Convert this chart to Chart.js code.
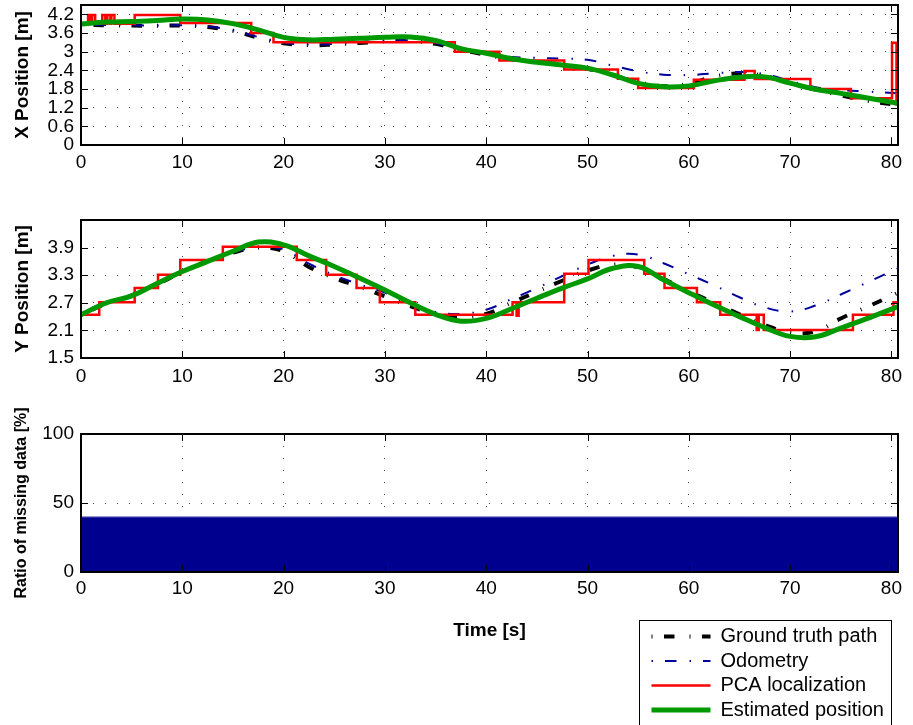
<!DOCTYPE html>
<html><head><meta charset="utf-8">
<script src="https://cdn.jsdelivr.net/npm/chart.js@4/dist/chart.umd.min.js"></script>
<style>
html,body{margin:0;padding:0;background:#fff;overflow:hidden;width:913px;height:725px}
canvas{position:absolute}
</style></head><body>
<canvas id="cx" width="913" height="200" style="left:0;top:0"></canvas>
<canvas id="cy" width="913" height="200" style="left:0;top:200px"></canvas>
<canvas id="cr" width="913" height="325" style="left:0;top:400px"></canvas>
<canvas id="cl" width="274" height="140" style="left:639px;top:620px"></canvas>
<script>
// ---------- data ----------
const xTicks = [0, 10, 20, 30, 40, 50, 60, 70, 80];
const xPosTicks = [0, 0.6, 1.2, 1.8, 2.4, 3, 3.6, 4.2];
const yPosTicks = [1.5, 2.1, 2.7, 3.3, 3.9];
const ratioTicks = [0, 50, 100];

const posTime = [0, 2.5, 5, 7.5, 10, 12.5, 15, 17.5, 20, 22.5, 25, 27.5, 30, 32.5, 35, 37.5, 40, 42.5, 45, 47.5, 50, 52.5, 55, 57.5, 60, 62.5, 65, 67.5, 70, 72.5, 75, 77.5, 80.65];

const xTruth = [3.86, 3.85, 3.84, 3.83, 3.84, 3.79, 3.67, 3.45, 3.27, 3.21, 3.23, 3.28, 3.33, 3.34, 3.25, 3.06, 2.9, 2.76, 2.67, 2.58, 2.45, 2.24, 2.02, 1.89, 1.97, 2.2, 2.3, 2.22, 2.0, 1.78, 1.6, 1.43, 1.28];
const xOdometry = [3.87, 3.86, 3.85, 3.84, 3.85, 3.8, 3.69, 3.47, 3.29, 3.23, 3.25, 3.3, 3.35, 3.36, 3.27, 3.08, 2.93, 2.83, 2.8, 2.78, 2.74, 2.55, 2.37, 2.26, 2.25, 2.3, 2.35, 2.28, 2.06, 1.86, 1.77, 1.72, 1.66];
const xEstimated = [3.89, 3.95, 3.97, 4.0, 4.05, 4.02, 3.9, 3.7, 3.46, 3.38, 3.4, 3.43, 3.46, 3.47, 3.36, 3.1, 2.95, 2.77, 2.66, 2.57, 2.47, 2.25, 1.98, 1.87, 1.9, 2.06, 2.18, 2.19, 1.99, 1.79, 1.66, 1.52, 1.34];
const xPcaTime = [0, 0.7, 0.9, 1.1, 1.4, 2.1, 2.4, 2.6, 2.9, 3.0, 3.3, 5.3, 9.8, 16.8, 19.0, 36.9, 41.3, 47.7, 53.0, 55.0, 60.5, 65.5, 66.5, 72.0, 76.0, 80.06, 80.5, 80.65];
const xPca = [3.9, 4.18, 3.9, 4.18, 3.9, 4.18, 3.9, 4.18, 3.9, 4.18, 3.9, 4.18, 3.92, 3.6, 3.3, 3.0, 2.72, 2.43, 2.13, 1.83, 2.1, 2.38, 2.12, 1.8, 1.5, 3.29, 1.3, 1.3];

const yTruth = [2.44, 2.68, 2.86, 3.1, 3.37, 3.6, 3.79, 3.9, 3.82, 3.48, 3.24, 3.05, 2.84, 2.63, 2.46, 2.39, 2.46, 2.7, 2.94, 3.18, 3.4, 3.53, 3.47, 3.22, 2.95, 2.7, 2.45, 2.22, 2.05, 2.08, 2.36, 2.6, 2.92];
const yOdometry = [2.44, 2.68, 2.86, 3.1, 3.37, 3.6, 3.8, 3.91, 3.86, 3.55, 3.3, 3.1, 2.92, 2.68, 2.5, 2.46, 2.55, 2.78, 3.02, 3.28, 3.53, 3.72, 3.75, 3.56, 3.32, 3.08, 2.82, 2.6, 2.51, 2.64, 2.88, 3.13, 3.45];
const yEstimated = [2.44, 2.7, 2.85, 3.12, 3.38, 3.6, 3.82, 4.02, 3.96, 3.72, 3.49, 3.24, 2.98, 2.7, 2.45, 2.3, 2.36, 2.57, 2.8, 3.02, 3.22, 3.45, 3.49, 3.2, 2.92, 2.65, 2.4, 2.16, 1.97, 1.96, 2.15, 2.35, 2.62];
const yPcaTime = [0, 1.8, 5.3, 7.6, 9.8, 14.0, 21.3, 24.2, 27.2, 29.5, 33.0, 42.6, 43.0, 43.2, 47.7, 50.1, 55.6, 57.6, 60.8, 63.1, 66.7, 66.9, 67.4, 76.2, 80.2, 80.65];
const yPca = [2.44, 2.71, 3.02, 3.31, 3.63, 3.92, 3.63, 3.31, 3.02, 2.71, 2.44, 2.71, 2.42, 2.71, 3.33, 3.63, 3.33, 3.02, 2.71, 2.44, 2.11, 2.44, 2.11, 2.44, 2.71, 2.71];

const ratioTime = [0, 80.65];
const ratioMissing = [40, 40];

const X_MAX = 80.65;

// ---------- styles ----------
Chart.defaults.font.family = "'Liberation Sans', Arial, Helvetica, sans-serif";
Chart.defaults.color = '#000';
const GRID = '#444';
const sTruth = { label: 'Ground truth path', borderColor: '#000000', borderWidth: 4, borderDash: [1, 11.5, 10.5, 15], tension: 0.4, order: 3 };
const sOdo = { label: 'Odometry', borderColor: '#00009c', borderWidth: 2, borderDash: [1.5, 12, 11.5, 13], tension: 0.4, order: 2 };
const sPca = { label: 'PCA localization', borderColor: '#ff0000', borderWidth: 2.5, stepped: true, order: 1 };
const sEst = { label: 'Estimated position', borderColor: '#009900', borderWidth: 5, tension: 0.4, order: 0 };

const pts = (t, v) => t.map((ti, i) => ({ x: ti, y: v[i] }));

const framePlugin = {
  id: 'frame',
  afterDatasetsDraw(chart) {
    const { ctx, chartArea: a, scales: { x, y } } = chart;
    const L = 7;
    ctx.save();
    ctx.strokeStyle = '#000';
    ctx.lineWidth = 1;
    ctx.setLineDash([]);
    ctx.beginPath();
    x.ticks.forEach(t => {
      const px = Math.round(x.getPixelForValue(t.value)) + 0.5;
      ctx.moveTo(px, a.bottom); ctx.lineTo(px, a.bottom - L);
      ctx.moveTo(px, a.top); ctx.lineTo(px, a.top + L);
    });
    y.ticks.forEach(t => {
      const py = Math.round(y.getPixelForValue(t.value)) + 0.5;
      ctx.moveTo(a.left, py); ctx.lineTo(a.left + L, py);
      ctx.moveTo(a.right, py); ctx.lineTo(a.right - L, py);
    });
    ctx.stroke();
    ctx.lineWidth = 2;
    ctx.strokeRect(a.left, a.top, a.right - a.left, a.bottom - a.top);
    ctx.restore();
  }
};

function axesChart(id, cfg) {
  return new Chart(document.getElementById(id), {
    type: 'line',
    data: { datasets: cfg.datasets },
    options: {
      responsive: false, animation: false, devicePixelRatio: 1,
      layout: { padding: { top: cfg.padTop, right: 15, left: 0, bottom: 0 } },
      plugins: { legend: { display: false }, tooltip: { enabled: false } },
      elements: { point: { radius: 0 } },
      scales: {
        x: {
          type: 'linear', min: 0, max: X_MAX,
          afterBuildTicks: s => { s.ticks = xTicks.map(v => ({ value: v })); },
          afterFit: s => { s.height = cfg.xAxisHeight; s.paddingLeft = 0; s.paddingRight = 0; },
          ticks: { autoSkip: false, maxRotation: 0, minRotation: 0, padding: cfg.xTickPad, font: { size: 19 }, color: '#000', callback: v => String(v) },
          grid: { color: GRID, lineWidth: 1, drawTicks: false },
          border: { display: false, dash: [1, 11] },
          title: cfg.xTitle || { display: false }
        },
        y: {
          type: 'linear', min: cfg.yMin, max: cfg.yMax,
          afterBuildTicks: s => { s.ticks = cfg.yTicks.map(v => ({ value: v })); },
          afterFit: s => { s.width = 81; s.paddingTop = 0; s.paddingBottom = 0; },
          ticks: { autoSkip: false, padding: 7, font: { size: 19 }, color: '#000', callback: v => String(v) },
          grid: { color: GRID, lineWidth: 1, drawTicks: false },
          border: { display: false, dash: [1, 11] },
          title: { display: true, text: cfg.yTitle, color: '#000', font: { size: cfg.yTitleSize, weight: 'bold' }, padding: { top: cfg.yTitlePad, bottom: 0 } }
        }
      }
    },
    plugins: [framePlugin]
  });
}

axesChart('cx', {
  padTop: 5, xAxisHeight: 55, xTickPad: 6,
  yMin: 0, yMax: 4.5, yTicks: xPosTicks, yTitle: 'X Position [m]', yTitleSize: 19, yTitlePad: 11,
  datasets: [
    { ...sTruth, data: pts(posTime, xTruth) },
    { ...sOdo, data: pts(posTime, xOdometry) },
    { ...sPca, data: pts(xPcaTime, xPca) },
    { ...sEst, data: pts(posTime, xEstimated) }
  ]
});

axesChart('cy', {
  padTop: 20, xAxisHeight: 42, xTickPad: 7,
  yMin: 1.5, yMax: 4.5, yTicks: yPosTicks, yTitle: 'Y Position [m]', yTitleSize: 19, yTitlePad: 11,
  datasets: [
    { ...sTruth, data: pts(posTime, yTruth) },
    { ...sOdo, data: pts(posTime, yOdometry) },
    { ...sPca, data: pts(yPcaTime, yPca) },
    { ...sEst, data: pts(posTime, yEstimated) }
  ]
});

axesChart('cr', {
  padTop: 34, xAxisHeight: 153, xTickPad: 5,
  yMin: 0, yMax: 100, yTicks: ratioTicks, yTitle: 'Ratio of missing data [%]', yTitleSize: 16, yTitlePad: 12,
  xTitle: { display: true, text: 'Time [s]', color: '#000', font: { size: 19, weight: 'bold' }, padding: { top: 0, bottom: 83 } },
  datasets: [
    { label: 'Ratio of missing data', data: pts(ratioTime, ratioMissing), borderColor: '#8a8ad0', borderWidth: 1, backgroundColor: 'rgb(0,0,143)', fill: 'origin', tension: 0 }
  ]
});

// legend
const legendBox = {
  id: 'legendBox',
  afterDraw(chart) {
    const { ctx } = chart;
    ctx.save();
    ctx.strokeStyle = '#000';
    ctx.lineWidth = 1;
    ctx.setLineDash([]);
    ctx.strokeRect(0.5, 0.5, 252, chart.height + 10);
    ctx.restore();
  }
};
new Chart(document.getElementById('cl'), {
  type: 'line',
  data: { datasets: [ { ...sTruth, data: [] }, { ...sOdo, data: [] }, { ...sPca, data: [] }, { ...sEst, data: [] } ] },
  options: {
    responsive: false, animation: false, devicePixelRatio: 1,
    layout: { padding: { top: 2, left: 8, right: 0, bottom: 0 } },
    scales: { x: { display: false }, y: { display: false } },
    plugins: {
      tooltip: { enabled: false },
      legend: {
        position: 'left', align: 'start', maxWidth: 400,
        labels: {
          usePointStyle: true, pointStyle: 'line', pointStyleWidth: 59, padding: 4.5,
          font: { size: 20 }, color: '#000',
          generateLabels: chart => chart.data.datasets.map((ds, i) => ({
            text: ds.label, datasetIndex: i, hidden: false,
            strokeStyle: ds.borderColor, fillStyle: ds.borderColor,
            lineWidth: ds.borderWidth, lineDash: ds.borderDash || [], lineCap: 'butt',
            pointStyle: 'line', fontColor: '#000'
          }))
        }
      }
    }
  },
  plugins: [legendBox]
});
</script>
</body></html>
